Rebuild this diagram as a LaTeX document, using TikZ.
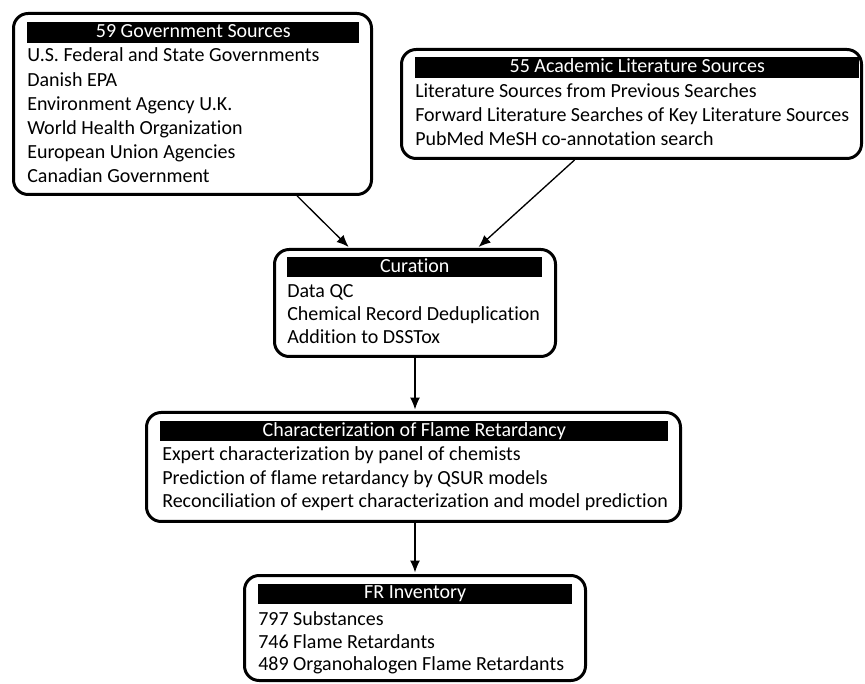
\documentclass[tikz,border=0pt]{standalone}
\usepackage{fontspec}
\setmainfont{Carlito}[Ligatures=NoCommon]
\usetikzlibrary{arrows.meta,calc,fit,positioning}

\tikzset{
  panel/.style={draw, line width=2.25pt, rounded corners=11pt, inner sep=0pt},
  headbar/.style={fill=black, text=white, inner sep=0pt, anchor=north west,
    minimum height=15pt, text height=9pt, text depth=1.5pt,
    font=\fontsize{15pt}{18pt}\selectfont},
  itemlist/.style={align=left, inner sep=0pt, anchor=base west,
    font=\fontsize{15pt}{17.6pt}\selectfont},
  flow/.style={-{Latex[length=9pt,width=7.5pt]}, line width=1pt, shorten >=1.1pt},
}

\begin{document}
\begin{tikzpicture}[x=0.75pt,y=-0.75pt]
    \useasboundingbox (0,0) rectangle (865,684);

    % sources (list nodes sit on their last baseline)
    \node[panel, fit={(13.5,13.5) (371.5,194.5)}] (gov) {};
    \node[headbar, minimum width=249pt, minimum height=15.75pt] (govhead) at (27,22) {59 Government Sources};
    \node[itemlist, font=\fontsize{15pt}{18.15pt}\selectfont] (govlist) at (27,183)
      {U.S. Federal and State Governments\\Danish EPA\\Environment Agency U.K.\\
       World Health Organization\\European Union Agencies\\Canadian Government};

    \node[panel, fit={(401.5,49.5) (861.5,158.5)}] (acad) {};
    \node[headbar, minimum width=333pt, minimum height=15.75pt] (acadhead) at (415,57) {55 Academic Literature Sources};
    \node[itemlist, font=\fontsize{15pt}{18pt}\selectfont] (acadlist) at (415,145.3)
      {Literature Sources from Previous Searches\\
       Forward Literature Searches of Key Literature Sources\\
       PubMed MeSH co-annotation search};

    % curation
    \node[panel, fit={(274.5,249.5) (555.5,356.5)}] (cur) {};
    \node[headbar, minimum width=191.25pt] (curhead) at (287,257) {Curation};
    \node[itemlist] (curlist) at (287,344)
      {Data QC\\Chemical Record Deduplication\\Addition to DSSTox};

    % characterization
    \node[panel, fit={(146.5,412.5) (680.5,521.5)}] (char) {};
    \node[headbar, minimum width=381pt] (charhead) at (160,421) {Characterization of Flame Retardancy};
    \node[itemlist] (charlist) at (162,507.7)
      {Expert characterization by panel of chemists\\
       Prediction of flame retardancy by QSUR models\\
       Reconciliation of expert characterization and model prediction};

    % inventory
    \node[panel, fit={(244.5,575.5) (585.5,680.5)}] (fr) {};
    \node[headbar, minimum width=235.5pt] (frhead) at (258,583.5) {FR Inventory};
    \node[itemlist, font=\fontsize{15pt}{16.8pt}\selectfont] (frlist) at (258,670.7)
      {797 Substances\\746 Flame Retardants\\489 Organohalogen Flame Retardants};

    % arrows
    \draw[flow] ($(gov.south west)!0.79!(gov.south east)$) -- ($(cur.north west)!0.27!(cur.north east)$);
    \draw[flow] ($(acad.south west)!0.377!(acad.south east)$) -- ($(cur.north west)!0.72!(cur.north east)$);
    \draw[flow] (cur.south) -- (cur.south |- char.north);
    \draw[flow] (fr.north |- char.south) -- (fr.north);
\end{tikzpicture}
\end{document}
